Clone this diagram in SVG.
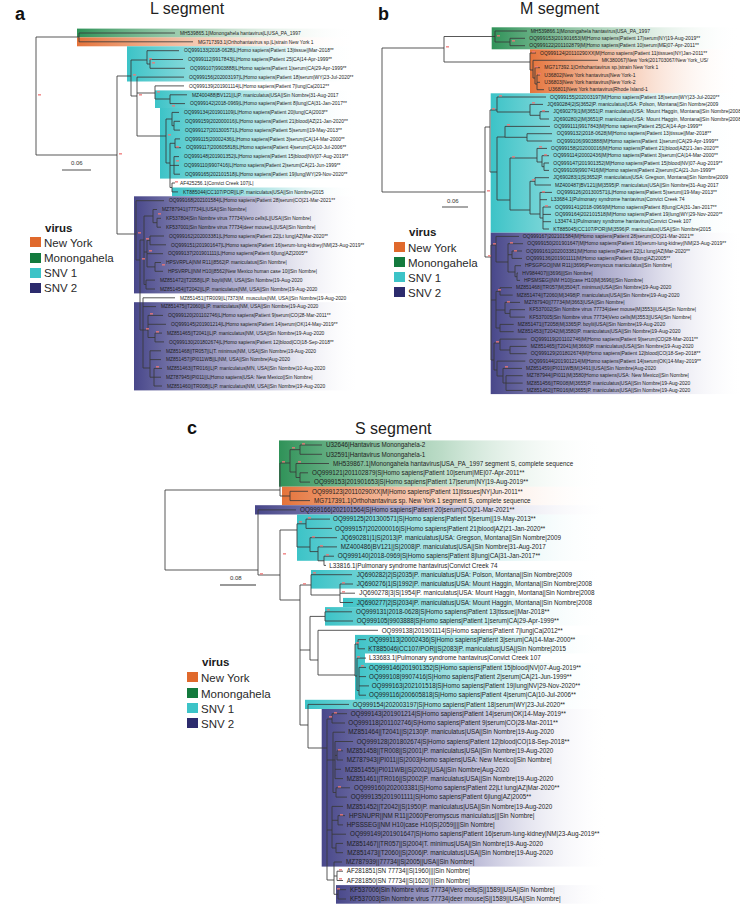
<svg xmlns="http://www.w3.org/2000/svg" width="740" height="906" viewBox="0 0 740 906">
<style>
.br{fill:none;stroke:#3a3a3a;stroke-width:0.85}
.t{font-family:"Liberation Sans",Arial,sans-serif;fill:#1e1e1e}
.ta{font-size:4.9px}
.tb{font-size:5px}
.tc{font-size:6.3px}
.lg{font-family:"Liberation Sans",Arial,sans-serif;font-size:11.5px;fill:#2a2a2a}
.lh{font-family:"Liberation Sans",Arial,sans-serif;font-size:11.5px;font-weight:bold;fill:#1a1a1a}
.ti{font-family:"Liberation Sans",Arial,sans-serif;font-size:16px;fill:#222}
.pl{font-family:"Liberation Sans",Arial,sans-serif;font-size:18px;font-weight:bold;fill:#111}
.sc{font-family:"Liberation Sans",Arial,sans-serif;font-size:6px;fill:#333}
.sb{stroke:#777;stroke-width:1.3}
.bs{fill:#f07878;opacity:0.8}
</style>
<defs>
<linearGradient id="gG"><stop offset="0" stop-color="#2f9258"/><stop offset="0.5" stop-color="#8fc4a2" stop-opacity="0.6"/><stop offset="1" stop-color="#ffffff" stop-opacity="0"/></linearGradient>
<linearGradient id="gO"><stop offset="0" stop-color="#e5733a"/><stop offset="0.5" stop-color="#f2b596" stop-opacity="0.6"/><stop offset="1" stop-color="#ffffff" stop-opacity="0"/></linearGradient>
<linearGradient id="gC"><stop offset="0" stop-color="#3cc3c7"/><stop offset="0.55" stop-color="#a5e1e2" stop-opacity="0.7"/><stop offset="1" stop-color="#ffffff" stop-opacity="0"/></linearGradient>
<linearGradient id="gP"><stop offset="0" stop-color="#48478a"/><stop offset="0.55" stop-color="#a9a8cc" stop-opacity="0.75"/><stop offset="1" stop-color="#ffffff" stop-opacity="0.1"/></linearGradient>
</defs>
<rect width="740" height="906" fill="#ffffff"/>

<!-- ========== Panel a ========== -->
<g id="panel-a-bg">
<rect x="77" y="28.6" width="280" height="8.8" fill="url(#gG)"/>
<rect x="77" y="37.4" width="280" height="8.9" fill="url(#gO)"/>
<rect x="127" y="46.3" width="230" height="35.2" fill="url(#gC)"/>
<rect x="155" y="90.4" width="202" height="17.6" fill="url(#gC)"/>
<rect x="160" y="108" width="197" height="70.6" fill="url(#gC)"/>
<rect x="172" y="187.5" width="185" height="8.8" fill="url(#gC)"/>
<rect x="134" y="196.3" width="223" height="97.1" fill="url(#gP)"/>
<rect x="134" y="302.2" width="223" height="88.2" fill="url(#gP)"/>
</g>
<text class="pl" x="15" y="20">a</text>
<text class="ti" x="150" y="14">L segment</text>
<g id="connectors-a">
<path class="br" d="M36,37V155 M36,37H79 M36,155H117 M79,33V41.8 M79,33H175 M79,41.8H193 M117,76V234 M117,76H131 M131,60V96 M131,60H147 M147,50.7V64 M147,50.7H179 M147,64H150 M150,59.5V68.3 M150,59.5H183 M150,68.3H185 M131,96H137 M137,77.1V136 M137,77.1H184 M137,93H155 M155,85.9V99 M155,85.9H184 M155,99H170 M170,94.8V103.6 M170,94.8H187 M170,103.6H185 M137,136H166 M166,119V163 M166,119H172 M172,112.4V125.7 M172,112.4H179 M172,125.7H174 M174,121.3V130.1 M174,121.3H180 M174,130.1H180 M166,163H170 M170,143.3V187.5 M170,143.3H175 M175,138.9V147.7 M175,138.9H180 M175,147.7H181 M170,165.4H174 M174,156.6V174.2 M174,156.6H179 M174,165.4H179 M174,174.2H180 M170,187.5H172 M172,183V191.9 M172,183H175 M172,191.9H178 M117,234H136 M136,200.7V260 M136,200.7H164 M136,260H140 M140,240V330 M140,240H144 M144,216V284.5 M144,216H153 M153,209.5V222.7 M153,209.5H157 M153,222.7H157 M157,218.3V227.2 M157,218.3H161 M157,227.2H161 M144,252H147 M147,240.4V266.9 M147,240.4H150 M150,236V244.8 M150,236H164 M150,244.8H166 M147,253.7H163 M147,266.9H155 M155,262.5V271.3 M155,262.5H161 M155,271.3H163 M144,284.5H146 M146,280.1V289 M146,280.1H155 M146,289H155 M140,330H143 M143,297.8V368 M143,297.8H175 M143,306.6H156 M143,330H148 M148,315.4V337.5 M148,315.4H163 M148,324.3H166 M148,337.5H155 M155,333.1V341.9 M155,333.1H162 M155,341.9H164 M143,368H150 M150,350.8V377.2 M150,350.8H161 M150,359.6H161 M150,377.2H154 M154,368.4V386 M154,368.4H162 M154,377.2H161 M154,386H162"/>
<g class="bs"><rect x="38" y="94" width="3" height="1.6"/><rect x="119" y="153" width="3" height="1.6"/><rect x="133" y="74" width="3" height="1.6"/><rect x="149" y="58" width="3" height="1.6"/><rect x="152" y="62" width="3" height="1.6"/><rect x="139" y="94" width="3" height="1.6"/><rect x="157" y="91" width="3" height="1.6"/><rect x="168" y="134" width="3" height="1.6"/><rect x="172" y="105" width="3" height="1.6"/><rect x="176" y="146" width="3" height="1.6"/><rect x="176" y="160" width="3" height="1.6"/><rect x="175" y="181" width="3" height="1.6"/><rect x="138" y="232" width="3" height="1.6"/><rect x="142" y="258" width="3" height="1.6"/><rect x="146" y="238" width="3" height="1.6"/><rect x="158" y="213" width="3" height="1.6"/><rect x="149" y="250" width="3" height="1.6"/><rect x="162" y="264" width="3" height="1.6"/><rect x="146" y="328" width="3" height="1.6"/><rect x="150" y="313" width="3" height="1.6"/><rect x="156" y="331" width="3" height="1.6"/><rect x="156" y="366" width="3" height="1.6"/></g>
</g>
<g class="t ta">
<g id="a01"><text x="180" y="34.7">MH539865.1|Monongahela hantavirus|L|USA_PA_1997</text></g>
<g id="a02"><text x="198" y="43.5">MG717393.1|Orthohantavirus sp.|L|strain New York 1</text></g>
<g id="a03"><text x="184" y="52.4">OQ999133|2018-0628|L|Homo sapiens|Patient 13|tissue||Mar-2018**</text></g>
<g id="a04"><text x="188" y="61.2">OQ999112|9917843|L|Homo sapiens|Patient 25|CA|14-Apr-1999**</text></g>
<g id="a05"><text x="190" y="70">OQ999107|9903888|L|Homo sapiens|Patient 1|serum|CA|29-Apr-1999**</text></g>
<g id="a06"><text x="189" y="78.8">OQ999156|202003197|L|Homo sapiens|Patient 18|serum|WY|23-Jul-2020**</text></g>
<g id="a07"><text x="189" y="87.6">OQ999139|201901114|L|Homo sapiens|Patient 7|lung|Ca|2012**</text></g>
<g id="a08"><text x="192" y="96.5">MZ400488|BV121||L|P. maniculatus|USA||Sin Nombre|31-Aug-2017</text></g>
<g id="a09"><text x="190" y="105.3">OQ999142|2018-0969|L|Homo sapiens|Patient 8|lung|CA|31-Jan-2017**</text></g>
<g id="a10"><text x="184" y="114.1">OQ999134|201901109|L|Homo sapiens|Patient 20|lung|CA|2003**</text></g>
<g id="a11"><text x="185" y="123">OQ999159|202000016|L|Homo sapiens|Patient 21|blood|AZ|21-Jan-2020**</text></g>
<g id="a12"><text x="185" y="131.8">OQ999127|201300571|L|Homo sapiens|Patient 5|serum||19-May-2013**</text></g>
<g id="a13"><text x="185" y="140.6">OQ999115|20002436|L|Homo sapiens|Patient 3|serum|CA|14-Mar-2000**</text></g>
<g id="a14"><text x="186" y="149.4">OQ999117|200605818|L|Homo sapiens|Patient 4|serum|CA|10-Jul-2006**</text></g>
<g id="a15"><text x="184" y="158.3">OQ999148|201901352|L|Homo sapiens|Patient 15|blood|NV|07-Aug-2019**</text></g>
<g id="a16"><text x="184" y="167.1">OQ999110|9907416|L|Homo sapiens|Patient 2|serum|CA|21-Jun-1999**</text></g>
<g id="a17"><text x="185" y="175.9">OQ999165|202101518|L|Homo sapiens|Patient 19|lung|WY|29-Nov-2020**</text></g>
<g id="a18"><text x="180" y="184.7">AF425256.1|Convict Creek 107|L|</text></g>
<g id="a19"><text x="183" y="193.6">KT885044|CC107/POR||L|P. maniculatus|USA||Sin Nombre|2015</text></g>
<g id="a20"><text x="169" y="202.4">OQ999168|202101584|L|Homo sapiens|Patient 28|serum|CO|21-Mar-2021**</text></g>
<g id="a21"><text x="162" y="211.2">MZ787941||77734|L|USA||Sin Nombre|</text></g>
<g id="a22"><text x="166" y="220">KF537804|Sin Nombre virus 77734|Vero cells|L||USA||Sin Nombre|</text></g>
<g id="a23"><text x="166" y="228.9">KF537001|Sin Nombre virus 77734|deer mouse|L||USA||Sin Nombre|</text></g>
<g id="a24"><text x="169" y="237.7">OQ999162|202003381|L|Homo sapiens|Patient 22|Lt lung|AZ|Mar-2020**</text></g>
<g id="a25"><text x="171" y="246.5">OQ999151|201901647|L|Homo sapiens|Patient 16|serum-lung-kidney|NM|23-Aug-2019**</text></g>
<g id="a26"><text x="168" y="255.4">OQ999137|201901111|L|Homo sapiens|Patient 6|lung|AZ|2005**</text></g>
<g id="a27"><text x="166" y="264.2">HPSVRPLA|NM R11||8562|P. maniculatus||Sin Nombre|</text></g>
<g id="a28"><text x="168" y="273">HPSVRPL||NM H10||8562|New Mexico human case 10||Sin Nombre|</text></g>
<g id="a29"><text x="160" y="281.8">MZ851472||T2058||L|P. boylii|NM, USA||Sin Nombre|19-Aug-2020</text></g>
<g id="a30"><text x="160" y="290.7">MZ851454||T2042||L|P. maniculatus|NM, USA||Sin Nombre|19-Aug-2020</text></g>
<g id="a31"><text x="180" y="299.5">MZ851451||TR009||L|7373|M. musculus|NM, USA||Sin Nombre|19-Aug-2020</text></g>
<g id="a32"><text x="161" y="308.3">MZ851475||T2060||L|P. maniculatus|NM, USA||Sin Nombre|19-Aug-2020</text></g>
<g id="a33"><text x="168" y="317.1">OQ999120|201102746|L|Homo sapiens|Patient 9|serum|CO|28-Mar-2011**</text></g>
<g id="a34"><text x="171" y="326">OQ999145|201901214|L|Homo sapiens|Patient 14|serum|OK|14-May-2019**</text></g>
<g id="a35"><text x="167" y="334.8">MZ851465||T2041||L|P. maniculatus|NM, USA||Sin Nombre|19-Aug-2020</text></g>
<g id="a36"><text x="169" y="343.6">OQ999130|201802674|L|Homo sapiens|Patient 12|blood|CO|18-Sep-2018**</text></g>
<g id="a37"><text x="166" y="352.5">MZ851468||TR057||L|T. minimus|NM, USA||Sin Nombre|19-Aug-2020</text></g>
<g id="a38"><text x="166" y="361.3">MZ851457||PI011WB||L|NM, USA||Sin Nombre|Aug-2020</text></g>
<g id="a39"><text x="167" y="370.1">MZ851463||TR016||L|P. maniculatus|MN, USA||Sin Nombre|10-Aug-2020</text></g>
<g id="a40"><text x="166" y="378.9">MZ787945||PI011||L|Homo sapiens|USA: New Mexico||Sin Nombre|</text></g>
<g id="a41"><text x="167" y="387.7">MZ851460||TR008||L|P. maniculatus|NM, USA||Sin Nombre|19-Aug-2020</text></g>
</g>
<g id="scale-a"><text class="sc" x="71" y="165">0.06</text><path class="sb" d="M62,170H91"/></g>
<g id="legend-a">
<text class="lh" x="45" y="232">virus</text>
<rect x="30" y="237" width="11" height="10" fill="#e0692c"/><text class="lg" x="44" y="246.5">New York</text>
<rect x="30" y="253" width="11" height="10" fill="#137a3d"/><text class="lg" x="44" y="262">Monongahela</text>
<rect x="30" y="268" width="11" height="10" fill="#3cc3c7"/><text class="lg" x="44" y="277">SNV 1</text>
<rect x="30" y="283" width="11" height="10" fill="#2c2b6d"/><text class="lg" x="44" y="292">SNV 2</text>
</g>

<!-- ========== Panel b ========== -->
<g id="panel-b-bg">
<rect x="491.7" y="27.3" width="248.3" height="22" fill="url(#gG)"/>
<rect x="530" y="49.3" width="210" height="44" fill="url(#gO)"/>
<rect x="490.7" y="93.3" width="249.3" height="139.4" fill="url(#gC)"/>
<rect x="490.7" y="232.7" width="249.3" height="161.4" fill="url(#gP)"/>
</g>
<text class="pl" x="378" y="20">b</text>
<text class="ti" x="520" y="14">M segment</text>
<g id="connectors-b">
<path class="br" d="M382,48V192 M382,48H444 M382,192H485 M444,36.5V62 M444,36.5H495 M495,31V42 M495,31H527 M495,42H510 M510,38.3V45.7 M510,38.3H525 M510,45.7H525 M444,62H530 M530,53V70 M530,53H536 M530,70H533 M533,60.3V78 M533,60.3H598 M533,78H535 M535,67.7V84 M535,67.7H540 M535,84H537 M537,75V89.7 M537,75H540 M537,82.3H540 M537,89.7H544 M485,127V257 M485,127H490 M490,110V172 M490,110H497 M497,97V112 M497,97H546 M497,112H530 M530,104.4V115.3 M530,104.4H543 M530,115.3H540 M540,111.7V119 M540,111.7H549 M540,119H549 M490,172H497 M497,137V200 M497,137H505 M505,126.4V137.3 M505,126.4H550 M505,137.3H527 M527,133.7V141 M527,133.7H552 M527,141H552 M497,200H510 M510,158V210 M510,158H537 M537,148.4V162 M537,148.4H547 M537,162H542 M542,155.7V166.7 M542,155.7H549 M542,166.7H544 M544,163V170.4 M544,163H549 M544,170.4H549 M510,210H530 M530,181.3V214 M530,181.3H535 M535,177.7V185 M535,177.7H549 M535,185H551 M530,214H540 M540,192.4V218 M540,192.4H552 M540,199.7H547 M540,218H543 M543,207V229 M543,207H551 M543,214.4H551 M543,221.7H551 M543,229H549 M485,257H491 M491,245V360 M491,245H496 M496,236.4V262 M496,236.4H519 M496,262H508 M508,243.7V272 M508,243.7H523 M508,254.7H512 M512,251V258.4 M512,251H522 M512,258.4H522 M508,272H515 M515,265.7V276.7 M515,265.7H521 M515,276.7H517 M517,273V280.4 M517,273H518 M517,280.4H520 M491,300H496 M496,291.4V328 M496,291.4H500 M500,287.7V295.1 M500,287.7H512 M500,295.1H512.7 M496,310H505 M505,302.4V313.4 M505,302.4H520 M505,313.4H510 M510,309.7V317.1 M510,309.7H525 M510,317.1H525 M496,328H500 M500,324.4V331.7 M500,324.4H513.7 M500,331.7H513.7 M491,360H494 M494,343V370 M494,343H500 M500,339.1V350 M500,339.1H526.7 M500,350H510 M510,346.4V353.7 M510,346.4H526.7 M510,353.7H526.7 M494,370H497 M497,361.1V376 M497,361.1H525.3 M497,376H503 M503,368.4V383 M503,368.4H522 M503,383H506 M506,375.7V390.4 M506,375.7H522.7 M506,383.1H522.7 M506,390.4H522.7"/>
<g class="bs"><rect x="446" y="46" width="3" height="1.6"/><rect x="497" y="35" width="3" height="1.6"/><rect x="512" y="40" width="3" height="1.6"/><rect x="532" y="51" width="3" height="1.6"/><rect x="535" y="66" width="3" height="1.6"/><rect x="538" y="73" width="3" height="1.6"/><rect x="487" y="190" width="3" height="1.6"/><rect x="492" y="108" width="3" height="1.6"/><rect x="499" y="95" width="3" height="1.6"/><rect x="507" y="124" width="3" height="1.6"/><rect x="532" y="102" width="3" height="1.6"/><rect x="542" y="110" width="3" height="1.6"/><rect x="512" y="156" width="3" height="1.6"/><rect x="539" y="146" width="3" height="1.6"/><rect x="544" y="154" width="3" height="1.6"/><rect x="532" y="179" width="3" height="1.6"/><rect x="542" y="191" width="3" height="1.6"/><rect x="545" y="205" width="3" height="1.6"/><rect x="488" y="255" width="3" height="1.6"/><rect x="493" y="243" width="3" height="1.6"/><rect x="510" y="242" width="3" height="1.6"/><rect x="514" y="250" width="3" height="1.6"/><rect x="498" y="289" width="3" height="1.6"/><rect x="507" y="301" width="3" height="1.6"/><rect x="496" y="341" width="3" height="1.6"/><rect x="505" y="366" width="3" height="1.6"/></g>
</g>
<g class="t tb">
<g id="b01"><text x="530.7" y="32.75">MH539866.1|Monongahela hantavirus|USA_PA_1997</text></g>
<g id="b02"><text x="529.3" y="40.05">OQ999153|201901653|M|Homo sapiens|Patient 17|serum|NY|19-Aug-2019**</text></g>
<g id="b03"><text x="529.3" y="47.45">OQ999122|201102879|M|Homo sapiens|Patient 10|serum|ME|07-Apr-2011**</text></g>
<g id="b04"><text x="540" y="54.75">OQ999124|20110290XX|M|Homo sapiens|Patient 11|tissues|NY|Jan-2011**</text></g>
<g id="b05"><text x="601.7" y="62.05">MK380067|New York|201703067/New York_US/</text></g>
<g id="b06"><text x="544.3" y="69.45">MG717392.1|Orthohantavirus sp.|strain New York 1</text></g>
<g id="b07"><text x="544.3" y="76.75">U36802|New York hantavirus|New York-1</text></g>
<g id="b08"><text x="544.3" y="84.05">U36803|New York hantavirus|New York-2</text></g>
<g id="b09"><text x="548.3" y="91.45">U36801|New York hantavirus|Rhode Island-1</text></g>
<g id="b10"><text x="550" y="98.75">OQ999155|202003197|M|Homo sapiens|Patient 18|serum|WY|23-Jul-2020**</text></g>
<g id="b11"><text x="547.3" y="106.15">JQ690284|2|S|3652|P. maniculatus|USA: Polson, Montana||Sin Nombre|2009</text></g>
<g id="b12"><text x="553.3" y="113.45">JQ690279|1|M|3651|P. maniculatus|USA: Mount Haggin, Montana||Sin Nombre|2008</text></g>
<g id="b13"><text x="553.3" y="120.75">JQ690280|2|M|3651|P. maniculatus|USA: Mount Haggin, Montana||Sin Nombre|2008</text></g>
<g id="b14"><text x="554" y="128.15">OQ999111|9917843|M|Homo sapiens|Patient 25|CA|14-Apr-1999**</text></g>
<g id="b15"><text x="556.7" y="135.45">OQ999132|2018-0628|M|Homo sapiens|Patient 13|tissue||Mar-2018**</text></g>
<g id="b16"><text x="556.7" y="142.75">OQ999106|9903888|M|Homo sapiens|Patient 1|serum|CA|29-Apr-1999**</text></g>
<g id="b17"><text x="551" y="150.15">OQ999158|202000016|M|Homo sapiens|Patient 21|blood|AZ|21-Jan-2020**</text></g>
<g id="b18"><text x="553.3" y="157.45">OQ999114|20002436|M|Homo sapiens|Patient 3|serum|CA|14-Mar-2000**</text></g>
<g id="b19"><text x="553.3" y="164.75">OQ999147|201901352|M|Homo sapiens|Patient 15|blood|NV|07-Aug-2019**</text></g>
<g id="b20"><text x="553.3" y="172.15">OQ999109|9907416|M|Homo sapiens|Patient 2|serum|CA|21-Jun-1999**</text></g>
<g id="b21"><text x="553.3" y="179.45">JQ690283|1|S|3652|P. maniculatus|USA: Gregson, Montana||Sin Nombre|2009</text></g>
<g id="b22"><text x="555" y="186.75">MZ400487|BV121||M|3595|P. maniculatus|USA||Sin Nombre|31-Aug-2017</text></g>
<g id="b23"><text x="556.7" y="194.15">OQ999126|201300571|L|Homo sapiens|Patient 5|serum||19-May-2013**</text></g>
<g id="b24"><text x="551" y="201.45">L33684.1|Pulmonary syndrome hantavirus|Convict Creek 74</text></g>
<g id="b25"><text x="555" y="208.75">OQ999141|2018-0969|M|Homo sapiens|Patient 8|lung|CA|31-Jan-2017**</text></g>
<g id="b26"><text x="555" y="216.15">OQ999164|202101518|M|Homo sapiens|Patient 19|lung|WY|29-Nov-2020**</text></g>
<g id="b27"><text x="555" y="223.45">L33474.1|Pulmonary syndrome hantavirus|Convict Creek 107</text></g>
<g id="b28"><text x="553.3" y="230.75">KT885045|CC107/POR||M|3596|P. maniculatus|USA||Sin Nombre|2015</text></g>
<g id="b29"><text x="522.7" y="238.15">OQ999167|202101584|M|Homo sapiens|Patient 28|serum|CO|21-Mar-2021**</text></g>
<g id="b30"><text x="527.3" y="245.45">OQ999150|201901647|M|Homo sapiens|Patient 16|serum-lung-kidney|NM|23-Aug-2019**</text></g>
<g id="b31"><text x="526" y="252.75">OQ999161|202003381|M|Homo sapiens|Patient 22|Lt lung|AZ|Mar-2020**</text></g>
<g id="b32"><text x="526" y="260.15">OQ999136|201901111|M|Homo sapiens|Patient 6|lung|AZ|2005**</text></g>
<g id="b33"><text x="525" y="267.45">HPSGPGO||NM R11||3696|Peromyscus maniculatus||Sin Nombre|</text></g>
<g id="b34"><text x="522.3" y="274.75">HV984407|||3696|||Sin Nombre|</text></g>
<g id="b35"><text x="524" y="282.15">HPSMSEG||NM H10||case H10|M|3696|||Sin Nombre|</text></g>
<g id="b36"><text x="516" y="289.45">MZ851468||TR057|M|3504|T. minimus|USA||Sin Nombre|19-Aug-2020</text></g>
<g id="b37"><text x="516.7" y="296.85">MZ851474||T2060|M|3498|P. maniculatus|USA||Sin Nombre|19-Aug-2020</text></g>
<g id="b38"><text x="524.3" y="304.15">MZ787940||77734|M|3663|USA||Sin Nombre|</text></g>
<g id="b39"><text x="529.3" y="311.45">KF537002|Sin Nombre virus 77734|deer mouse|M|3553||USA||Sin Nombre|</text></g>
<g id="b40"><text x="529.3" y="318.85">KF537005|Sin Nombre virus 77734|Vero cells|M|3553||USA||Sin Nombre|</text></g>
<g id="b41"><text x="517.7" y="326.15">MZ851471||T2058|M|3365|P. boylii|USA||Sin Nombre|19-Aug-2020</text></g>
<g id="b42"><text x="517.7" y="333.45">MZ851453||T2042|M|3580|P. maniculatus|USA||Sin Nombre|19-Aug-2020</text></g>
<g id="b43"><text x="530.7" y="340.85">OQ999119|201102746|M|Homo sapiens|Patient 9|serum|CO|28-Mar-2011**</text></g>
<g id="b44"><text x="530.7" y="348.15">MZ851465||T2041|M|3660|P. maniculatus|USA||Sin Nombre|19-Aug-2020</text></g>
<g id="b45"><text x="530.7" y="355.45">OQ999129|201802674|M|Homo sapiens|Patient 12|blood|CO|18-Sep-2018**</text></g>
<g id="b46"><text x="529.3" y="362.85">OQ999144|201901214|M|Homo sapiens|Patient 14|serum|OK|14-May-2019**</text></g>
<g id="b47"><text x="526" y="370.15">MZ851459||PI011WB|M|3491||USA||Sin Nombre|Aug-2020</text></g>
<g id="b48"><text x="526.7" y="377.45">MZ787944||PI011|M|3580|Homo sapiens|USA: New Mexico||Sin Nombre|</text></g>
<g id="b49"><text x="526.7" y="384.85">MZ851456||TR008|M|3655|P. maniculatus|USA||Sin Nombre|19-Aug-2020</text></g>
<g id="b50"><text x="526.7" y="392.15">MZ851462||TR016|M|3655|P. maniculatus|USA||Sin Nombre|19-Aug-2020</text></g>
</g>
<g id="scale-b"><text class="sc" x="447" y="203">0.06</text><path class="sb" d="M442,207H468"/></g>
<g id="legend-b">
<text class="lh" x="409" y="236">virus</text>
<rect x="394" y="242" width="11" height="10" fill="#e0692c"/><text class="lg" x="408" y="251.5">New York</text>
<rect x="394" y="257" width="11" height="10" fill="#137a3d"/><text class="lg" x="408" y="266.5">Monongahela</text>
<rect x="394" y="272" width="11" height="10" fill="#3cc3c7"/><text class="lg" x="408" y="281.5">SNV 1</text>
<rect x="394" y="287" width="11" height="10" fill="#2c2b6d"/><text class="lg" x="408" y="296.5">SNV 2</text>
</g>

<!-- ========== Panel c ========== -->
<g id="panel-c-bg">
<rect x="279" y="440.4" width="326" height="46.3" fill="url(#gG)"/>
<rect x="282" y="486.7" width="323" height="18.5" fill="url(#gO)"/>
<rect x="255" y="505.2" width="350" height="9.3" fill="url(#gP)"/>
<rect x="297" y="514.5" width="308" height="46.3" fill="url(#gC)"/>
<rect x="311" y="570" width="294" height="18.6" fill="url(#gC)"/>
<rect x="343" y="597.9" width="262" height="9.2" fill="url(#gC)"/>
<rect x="325" y="607.1" width="280" height="18.5" fill="url(#gC)"/>
<rect x="355" y="634.9" width="250" height="64.9" fill="url(#gC)"/>
<rect x="365" y="653.5" width="245" height="9.3" fill="#ffffff"/>
<rect x="305" y="699.8" width="300" height="9.2" fill="url(#gC)"/>
<rect x="321.7" y="709" width="283.3" height="157.6" fill="url(#gP)"/>
<rect x="336" y="885.1" width="269" height="18.6" fill="url(#gP)"/>
</g>
<text class="pl" x="187" y="434">c</text>
<text class="ti" x="355" y="434">S segment</text>
<g id="connectors-c">
<path class="br" d="M165,490V570 M165,490H280 M165,570H258 M280,463V496 M280,463H290 M290,449.7V472 M290,449.7H300 M300,445V454.3 M300,445H322 M300,454.3H322 M290,472H296 M296,463.5V477.5 M296,463.5H329 M296,477.5H300 M300,472.8V482.1 M300,472.8H308 M300,482.1H310 M280,496H290 M290,491.3V500.6 M290,491.3H308 M290,500.6H310 M258,509.9V575 M258,509.9H296 M258,575H280 M280,530V600 M280,530H297 M297,523.8V547 M297,523.8H306 M306,519.1V528.4 M306,519.1H330 M306,528.4H332 M297,547H310 M310,537.7V551.6 M310,537.7H337 M310,551.6H318 M318,546.9V560.8 M318,546.9H337 M318,560.8H324 M324,556.2V565.4 M324,556.2H334 M324,565.4H326 M280,600H300 M300,585V725 M300,585H311 M311,574.7V595 M311,574.7H352 M311,595H340 M340,584V602.5 M340,584H353 M340,593.2H355 M340,602.5H353 M300,650H310 M310,616.4V660 M310,616.4H325 M325,611.8V621 M325,611.8H352 M325,621H353 M310,660H318 M318,630.3V675 M318,630.3H378 M318,675H355 M355,644V676 M355,644H358 M358,639.6V648.8 M358,639.6H366 M358,648.8H365 M355,676H357 M357,658.1V690.5 M357,658.1H366 M357,690.5H359 M359,667.4V695.2 M359,667.4H366 M359,676.6H366 M359,685.9H369 M359,695.2H366 M300,725H308 M308,704.4V748 M308,704.4H349 M308,748H327 M327,719V880 M327,719H332 M332,713.7V723 M332,713.7H347 M332,723H345 M327,760H333 M333,732.2V792.5 M333,732.2H345 M333,760H335 M335,741.5V778.6 M335,741.5H353 M335,755.4H337 M337,750.8V760 M337,750.8H343 M337,760H343 M335,769.3H341 M335,778.6H343 M333,792.5H336 M336,787.8V797.1 M336,787.8H350 M336,797.1H347 M327,830H332 M332,806.4V848 M332,806.4H343 M332,820.3H338 M338,815.6V824.9 M338,815.6H345 M338,824.9H343 M332,834.2H346 M332,848H336 M336,843.4V852.7 M336,843.4H343 M336,852.7H343 M327,880H334 M334,862V894.3 M334,862H342 M334,876H337 M337,871.2V880.5 M337,871.2H343 M337,880.5H343 M334,894.3H338 M338,889.7V899 M338,889.7H346 M338,899H346"/>
<g class="bs"><rect x="282" y="461" width="3" height="1.6"/><rect x="292" y="447" width="3" height="1.6"/><rect x="302" y="443" width="3" height="1.6"/><rect x="298" y="461" width="3" height="1.6"/><rect x="283" y="553" width="3" height="1.6"/><rect x="299" y="521" width="3" height="1.6"/><rect x="308" y="517" width="3" height="1.6"/><rect x="312" y="536" width="3" height="1.6"/><rect x="320" y="545" width="3" height="1.6"/><rect x="326" y="554" width="3" height="1.6"/><rect x="313" y="572" width="3" height="1.6"/><rect x="342" y="582" width="3" height="1.6"/><rect x="342" y="591" width="3" height="1.6"/><rect x="327" y="609" width="3" height="1.6"/><rect x="356" y="642" width="3" height="1.6"/><rect x="357" y="656" width="3" height="1.6"/><rect x="361" y="665" width="3" height="1.6"/><rect x="329" y="716" width="3" height="1.6"/><rect x="334" y="712" width="3" height="1.6"/><rect x="338" y="749" width="3" height="1.6"/><rect x="338" y="786" width="3" height="1.6"/><rect x="340" y="814" width="3" height="1.6"/><rect x="339" y="869" width="3" height="1.6"/><rect x="339" y="878" width="3" height="1.6"/><rect x="337" y="888" width="3" height="1.6"/><rect x="303" y="583" width="3" height="1.6"/><rect x="260" y="573" width="3" height="1.6"/></g>
</g>
<g class="t tc">
<g id="c01"><text x="326" y="447.2">U32646|Hantavirus Monongahela-2</text></g>
<g id="c02"><text x="326" y="456.5">U32591|Hantavirus Monongahela-1</text></g>
<g id="c03"><text x="333" y="465.7">MH539867.1|Monongahela hantavirus|USA_PA_1997 segment S, complete sequence</text></g>
<g id="c04"><text x="312" y="475">OQ999121|201102879|S|Homo sapiens|Patient 10|serum|ME|07-Apr-2011**</text></g>
<g id="c05"><text x="314" y="484.3">OQ999153|201901653|S|Homo sapiens|Patient 17|serum|NY|19-Aug-2019**</text></g>
<g id="c06"><text x="312" y="493.5">OQ999123|20110290XX|M|Homo sapiens|Patient 11|tissues|NY|Jun-2011**</text></g>
<g id="c07"><text x="314" y="502.8">MG717391.1|Orthohantavirus sp. New York 1 segment S, complete sequence</text></g>
<g id="c08"><text x="300" y="512.1">OQ999166|202101564|S|Homo sapiens|Patient 20|serum|CO|21-Mar-2021**</text></g>
<g id="c09"><text x="333" y="521.3">OQ999125|201300571|S|Homo sapiens|Patient 5|serum||19-May-2013**</text></g>
<g id="c10"><text x="335" y="530.6">OQ999157|202000016|S|Homo sapiens|Patient 21|blood|AZ|21-Jan-2020**</text></g>
<g id="c11"><text x="340.7" y="539.9">JQ690281|1|S|2013|P. maniculatus|USA: Gregson, Montana||Sin Nombre|2009</text></g>
<g id="c12"><text x="340.7" y="549.1">MZ400486|BV121||S|2008|P. maniculatus|USA||Sin Nombre|31-Aug-2017</text></g>
<g id="c13"><text x="337.7" y="558.4">OQ999140|2018-0969|S|Homo sapiens|Patient 8|lung|CA|31-Jan-2017**</text></g>
<g id="c14"><text x="329.3" y="567.6">L33816.1|Pulmonary syndrome hantavirus|Convict Creek 74</text></g>
<g id="c15"><text x="356.7" y="576.9">JQ690282|2|S|2035|P. maniculatus|USA: Polson, Montana||Sin Nombre|2009</text></g>
<g id="c16"><text x="356.7" y="586.2">JQ690276|1|S|1992|P. maniculatus|USA: Mount Haggin, Montana||Sin Nombre|2008</text></g>
<g id="c17"><text x="359.3" y="595.4">JQ690278|3|S|1954|P. maniculatus|USA: Mount Haggin, Montana||Sin Nombre|2008</text></g>
<g id="c18"><text x="356.7" y="604.7">JQ690277|2|S|2034|P. maniculatus|USA: Mount Haggin, Montana||Sin Nombre|2008</text></g>
<g id="c19"><text x="356" y="614">OQ999131|2018-0628|S|Homo sapiens|Patient 13|tissue||Mar-2018**</text></g>
<g id="c20"><text x="356.7" y="623.2">OQ999105|9903888|S|Homo sapiens|Patient 1|serum|CA|29-Apr-1999**</text></g>
<g id="c21"><text x="381.7" y="632.5">OQ999138|201901114|S|Homo sapiens|Patient 7|lung|Ca|2012**</text></g>
<g id="c22"><text x="369" y="641.8">OQ999113|20002436|S|Homo sapiens|Patient 3|serum|CA|14-Mar-2000**</text></g>
<g id="c23"><text x="368.3" y="651">KT885046|CC107/POR||S|2083|P. maniculatus|USA||Sin Nombre|2015</text></g>
<g id="c24"><text x="369" y="660.3">L33683.1|Pulmonary syndrome hantavirus|Convict Creek 107</text></g>
<g id="c25"><text x="369" y="669.6">OQ999146|201901352|S|Homo sapiens|Patient 15|blood|NV|07-Aug-2019**</text></g>
<g id="c26"><text x="369" y="678.8">OQ999108|9907416|S|Homo sapiens|Patient 2|serum|CA|21-Jun-1999**</text></g>
<g id="c27"><text x="371.7" y="688.1">OQ999163|202101518|S|Homo sapiens|Patient 19|lung|NV|29-Nov-2020**</text></g>
<g id="c28"><text x="369" y="697.4">OQ999116|200605818|S|Homo sapiens|Patient 4|serum|CA|10-Jul-2006**</text></g>
<g id="c29"><text x="352.7" y="706.6">OQ999154|202003197|S|Homo sapiens|Patient 18|serum|WY|23-Jul-2020**</text></g>
<g id="c30"><text x="350.7" y="715.9">OQ999143|201901214|S|Homo sapiens|Patient 14|serum|OK|14-May-2019**</text></g>
<g id="c31"><text x="348.3" y="725.2">OQ999118|201102746|S|Homo sapiens|Patient 9|serum|CO|28-Mar-2011**</text></g>
<g id="c32"><text x="348.3" y="734.4">MZ851464||T2041||S|2130|P. maniculatus|USA||Sin Nombre|19-Aug-2020</text></g>
<g id="c33"><text x="356.7" y="743.7">OQ999128|201802674|S|Homo sapiens|Patient 12|blood|CO|18-Sep-2018**</text></g>
<g id="c34"><text x="346.7" y="753">MZ851458||TR008||S|2001|P. maniculatus|USA||Sin Nombre|19-Aug-2020</text></g>
<g id="c35"><text x="346.7" y="762.2">MZ787943||PI011||S|2003|Homo sapiens|USA: New Mexico||Sin Nombre|</text></g>
<g id="c36"><text x="345" y="771.5">MZ851455||PI011WB||S|2002||USA||Sin Nombre|Aug-2020</text></g>
<g id="c37"><text x="346.7" y="780.8">MZ851461||TR016||S|2002|P. maniculatus|USA||Sin Nombre|19-Aug-2020</text></g>
<g id="c38"><text x="354" y="790">OQ999160|202003381|S|Homo sapiens|Patient 22|Lt lung|AZ|Mar-2020**</text></g>
<g id="c39"><text x="350.7" y="799.3">OQ999135|201901111|S|Homo sapiens|Patient 6|lung|AZ|2005**</text></g>
<g id="c40"><text x="346.7" y="808.6">MZ851452||T2042||S|1950|P. maniculatus|USA||Sin Nombre|19-Aug-2020</text></g>
<g id="c41"><text x="349" y="817.8">HPSNUPR||NM R11||2060|Peromyscus maniculatus|||Sin Nombre|</text></g>
<g id="c42"><text x="346.7" y="827.1">HPSSSEG||NM H10|case H10|S|2059||||Sin Nombre|</text></g>
<g id="c43"><text x="350" y="836.4">OQ999149|201901647|S|Homo sapiens|Patient 16|serum-lung-kidney|NM|23-Aug-2019**</text></g>
<g id="c44"><text x="346.7" y="845.6">MZ851467||TR057||S|2004|T. minimus|USA||Sin Nombre|19-Aug-2020</text></g>
<g id="c45"><text x="347.3" y="854.9">MZ851473||T2060||S|2006|P. maniculatus|USA||Sin Nombre|19-Aug-2020</text></g>
<g id="c46"><text x="346" y="864.2">MZ787939||77734||S|2005||USA||Sin Nombre|</text></g>
<g id="c47"><text x="346.7" y="873.4">AF281851|SN 77734||S|1960||||Sin Nombre|</text></g>
<g id="c48"><text x="346.7" y="882.7">AF281850|SN 77734||S|1620||||Sin Nombre|</text></g>
<g id="c49"><text x="350" y="891.9">KF537006|Sin Nombre virus 77734|Vero cells|S||1589||USA||Sin Nombre|</text></g>
<g id="c50"><text x="350" y="901.2">KF537003|Sin Nombre virus 77734|deer mouse|S||1589||USA||Sin Nombre|</text></g>
</g>
<g id="scale-c"><text class="sc" x="230" y="580">0.08</text><path class="sb" d="M220,585H256"/></g>
<g id="legend-c">
<text class="lh" x="202" y="666">virus</text>
<rect x="187" y="672" width="11" height="10" fill="#e0692c"/><text class="lg" x="201" y="681.5">New York</text>
<rect x="187" y="688" width="11" height="10" fill="#137a3d"/><text class="lg" x="201" y="697.5">Monongahela</text>
<rect x="187" y="703" width="11" height="10" fill="#3cc3c7"/><text class="lg" x="201" y="712.5">SNV 1</text>
<rect x="187" y="718" width="11" height="10" fill="#2c2b6d"/><text class="lg" x="201" y="727.5">SNV 2</text>
</g>
</svg>
